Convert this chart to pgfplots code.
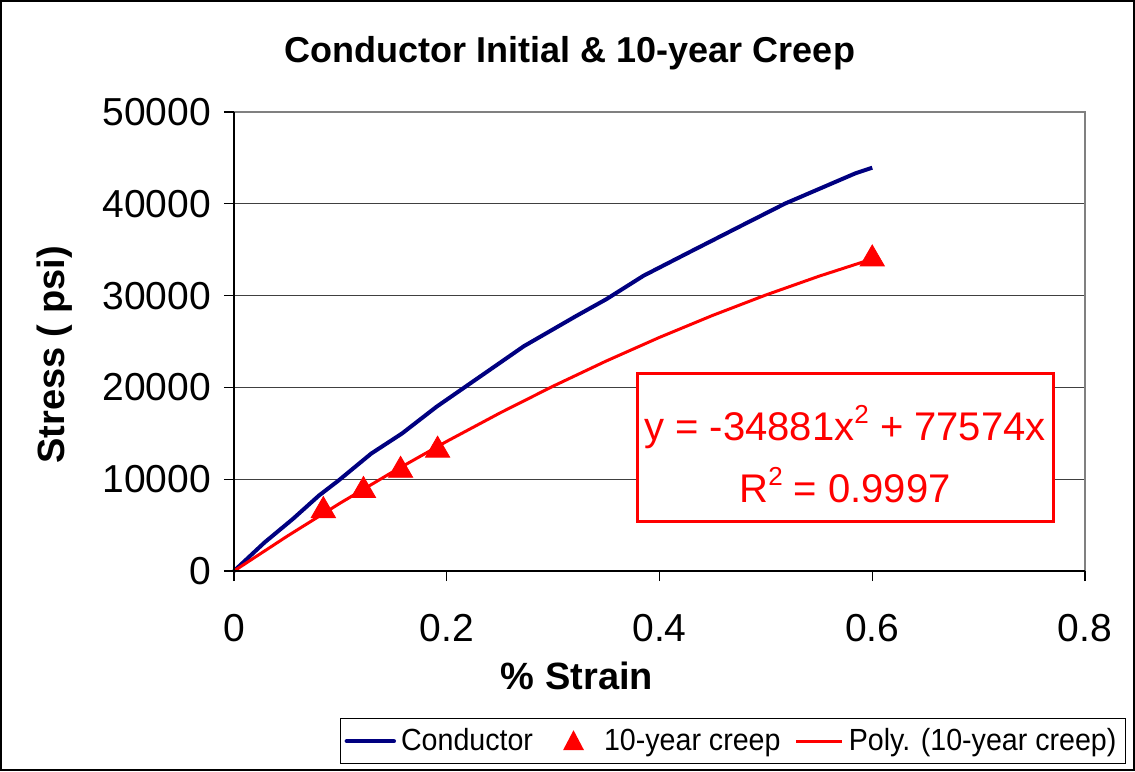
\documentclass[border=0pt]{standalone}
\usepackage{fontspec}
\setmainfont{Liberation Sans}
\usepackage{pgfplots}
\pgfplotsset{compat=1.18}
\definecolor{navyc}{RGB}{0,0,128}
\definecolor{redc}{RGB}{255,0,0}
\begin{document}
\begin{tikzpicture}[x=1pt,y=1pt]
\useasboundingbox (-117,-100) rectangle (450.5,285.5);
\draw[black, line width=0.8pt] (-116.6,-99.6) rectangle (450.1,285.1);
\begin{axis}[
  at={(0,0)}, anchor=south west,
  scale only axis, width=425.5pt, height=229.5pt,
  xmin=0, xmax=0.8, ymin=0, ymax=50000,
  scaled y ticks=false, scaled x ticks=false,
  xtick={0,0.2,0.4,0.6,0.8}, xticklabels={0,0.2,0.4,0.6,0.8},
  ytick={0,10000,20000,30000,40000,50000},
  yticklabels={0,10000,20000,30000,40000,50000},
  tick pos=left, tick align=outside, major tick length=5pt,
  tick style={black, line width=0.6pt},
  ymajorgrids, grid style={black!75, line width=0.6pt},
  axis line style={draw=none},
  ticklabel style={font=\fontsize{19.5}{22}\selectfont},
  xticklabel style={yshift=-13pt},
  yticklabel style={xshift=-3pt},
  title={\textbf{Conductor Initial \& 10-year Creep}},
  title style={font=\fontsize{18}{21}\selectfont, at={(0.3948,1.101)}, anchor=center, yshift=0pt},
  xlabel={\textbf{\% Strain}},
  xlabel style={font=\fontsize{19}{22}\selectfont, at={(0.403,-0.2288)}, anchor=center},
  ylabel={\textbf{Stress ( psi)}},
  ylabel style={font=\fontsize{19}{22}\selectfont, at={(-0.2103,0.4706)}, anchor=center, rotate=0},
  legend style={at={(0.1246,-0.3203)}, anchor=north west, draw=black, line width=0.6pt,
    inner xsep=2pt, inner ysep=2pt,
    nodes={inner xsep=2.5pt, inner ysep=3pt},
    font=\fontsize{15.3}{18}\selectfont\addfontfeatures{FakeStretch=0.935},
    legend columns=3,
    /tikz/column 2/.style={column sep=12.5pt},
    /tikz/column 4/.style={column sep=4.5pt}},
  clip=false,
]
\addlegendimage{legend image code/.code={\draw[navyc, line width=2.2pt, line cap=round] (0.5pt,0pt) -- (24pt,0pt);}}
\addlegendentry{Conductor}
\addlegendimage{legend image code/.code={\path[draw=none] (0pt,0pt) -- (18pt,0pt);
  \fill[redc, draw=none] (0pt,-4.5pt) -- (10.5pt,-4.5pt) -- (5.25pt,5.5pt) -- cycle;}}
\addlegendentry{10-year creep}
\addlegendimage{legend image code/.code={\draw[redc, line width=1.6pt] (0pt,0pt) -- (23pt,0pt);}}
\addlegendentry{Poly. (10-year creep)}

\addplot[navyc, line width=2pt, forget plot] coordinates {
(0,0) (0.0287,3107) (0.0553,5665) (0.0799,8224) (0.0984,9868) (0.129,12792)
(0.158,14985) (0.1906,17909) (0.2316,21199) (0.2725,24488) (0.3217,27778)
(0.350,29605) (0.385,32164) (0.428,34722) (0.4775,37646) (0.518,40022)
(0.551,41667) (0.584,43311) (0.600,43933)
};
\addplot[redc, line width=1.5pt, forget plot] coordinates {
(0,0) (0.05,3791.5) (0.1,7408.6) (0.15,10851.3) (0.2,14119.6) (0.25,17213.4)
(0.3,20132.9) (0.35,22878) (0.4,25448.6) (0.45,27844.9) (0.5,30066.8)
(0.55,32114.2) (0.6,33987.2)
};
\addplot[only marks, mark=triangle*, mark size=7pt, redc, mark options={fill=redc, draw=redc}, forget plot] coordinates {
(0.084,6579) (0.1217,8772) (0.1566,10965) (0.1914,13158) (0.600,33991)
};
\end{axis}
% plot frame
\draw[gray, line width=0.8pt] (0,229.5) -- (425.5,229.5) -- (425.5,0);
\draw[black, line width=0.8pt] (0,0) -- (0,229.5);
\draw[black, line width=0.8pt] (0,0) -- (425.5,0);
% equation box
\draw[redc, line width=1.5pt, fill=white] (201.5,24.5) rectangle (409.5,98.5);
\node[redc, align=center, font=\fontsize{20}{31}\selectfont] at (305.5,58.5)
  {y = -34881x\raisebox{0.42em}{\fontsize{13}{13}\selectfont 2} + 77574x\\R\raisebox{0.42em}{\fontsize{13}{13}\selectfont 2} = 0.9997};
\end{tikzpicture}
\end{document}
